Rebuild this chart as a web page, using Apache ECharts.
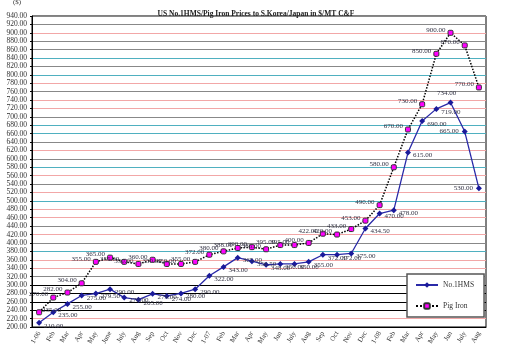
<!DOCTYPE html>
<html><head><meta charset="utf-8">
<script src="https://cdn.jsdelivr.net/npm/echarts@6/dist/echarts.min.js"></script>
<style>html,body{margin:0;padding:0;background:#fff}#c{width:512px;height:361px}</style>
</head><body><div id="c"></div>
<script>
const categories = ["1-06","Feb","Mar","Apr","May","June","July","Aug","Sep","Oct","Nov","Dec",
  "1-07","Feb","Mar","Apr","May","Jun","July","Aug","Sep","Oct","Nov","Dec",
  "1-08","Feb","Mar","Apr","May","Jun","July","Aug"];
const hms = [210,235,255,275,279.5,290,270,265,279,274,280,290,
  322,343,365,356.5,348,350,350,355,372,372,375,434.5,
  470,478,615,690,719,734,665,530];
const pigIron = [235,270,282,304,355,365,355,350,360,350,350,355,
  372,380,388,390,385,395,395,400,422,420,433,453,
  490,580,670,730,850,900,870,770];
const seriesNames = ["No.1HMS","Pig Iron"];
const titleText = "US No.1HMS/Pig Iron Prices to S.Korea/Japan in $/MT C&F";

const gridColors = ['#000','#f2a7a7','#000','#000','#000','#000','#888','#f2a7a7','#f2a7a7','#4fb0c0',
 '#888','#f2a7a7','#888','#f2a7a7','#f2a7a7','#4fb0c0','#f2a7a7','#888','#f2a7a7','#4fb0c0',
 '#888','#f2a7a7','#888','#4fb0c0','#4fb0c0','#888','#f2a7a7','#f2a7a7','#888','#f2a7a7',
 '#4fb0c0','#888','#4fb0c0','#888','#888','#f2a7a7','#888','#888'];
const serif = '"Liberation Serif","DejaVu Serif",serif';

const chart = echarts.init(document.getElementById('c'));
const hmsData = hms.map((v,i)=>{
  if (i===29) return {value:v,label:{position:'top',offset:[-4,0]}};
  if (i>=30) return {value:v,label:{position:'left',offset:[0,0]}};
  return v;
});
const pigData = pigIron.map((v,i)=>{
  if (i===0) return {value:v,label:{position:'right',offset:[-2,-2]}};
  return v;
});
chart.setOption({
  animation:false,
  title:{text:titleText,left:'center',top:5,
    textStyle:{fontFamily:serif,fontSize:7.5,fontWeight:'bold',color:'#222'}},
  graphic:[{type:'text',left:13,top:-1,style:{text:'($)',font:'7px '+serif,fill:'#333'}}],
  grid:{left:32,right:26,top:16,bottom:34,show:true,borderColor:'#000',borderWidth:1,backgroundColor:'#fff'},
  legend:{orient:'vertical',left:407,top:274,width:60,
    backgroundColor:'#fff',borderColor:'#555',borderWidth:1.5,
    padding:[7,10,7,8],itemGap:13,itemWidth:22,itemHeight:7,
    textStyle:{fontFamily:serif,fontSize:7.5,color:'#333'},
    data:seriesNames},
  xAxis:{type:'category',data:categories,boundaryGap:true,
    axisLine:{lineStyle:{color:'#000',width:1}},
    axisTick:{inside:true,length:3,lineStyle:{color:'#2a6f7a'}},
    axisLabel:{rotate:60,interval:0,fontFamily:serif,fontSize:7,color:'#333',margin:5}},
  yAxis:{type:'value',min:200,max:940,interval:20,
    axisLine:{show:true,lineStyle:{color:'#000',width:1}},
    axisTick:{show:true,length:2,lineStyle:{color:'#000'}},
    axisLabel:{fontFamily:serif,fontSize:7.5,color:'#333',margin:5,formatter:v=>v.toFixed(2)},
    splitLine:{show:true,lineStyle:{color:gridColors,width:1.2}}},
  series:[
    {name:seriesNames[0],type:'line',data:hmsData,symbol:'diamond',symbolSize:6,
     itemStyle:{color:'#1a1a9a'},lineStyle:{color:'#2a2aa8',width:1.3},
     label:{show:true,position:'right',offset:[-1,3],distance:3,fontFamily:serif,fontSize:7,color:'#334',
       formatter:p=>Number(p.value).toFixed(2)}},
    {name:seriesNames[1],type:'line',data:pigData,symbol:'roundRect',symbolSize:5,
     itemStyle:{color:'#ff00ff',borderColor:'#333',borderWidth:1},
     lineStyle:{color:'#000',width:1.5,type:'dotted'},
     label:{show:true,position:'left',offset:[0,-3],distance:2,fontFamily:serif,fontSize:7,color:'#334',
       formatter:p=>Number(p.value).toFixed(2)}}
  ]
});
</script></body></html>
